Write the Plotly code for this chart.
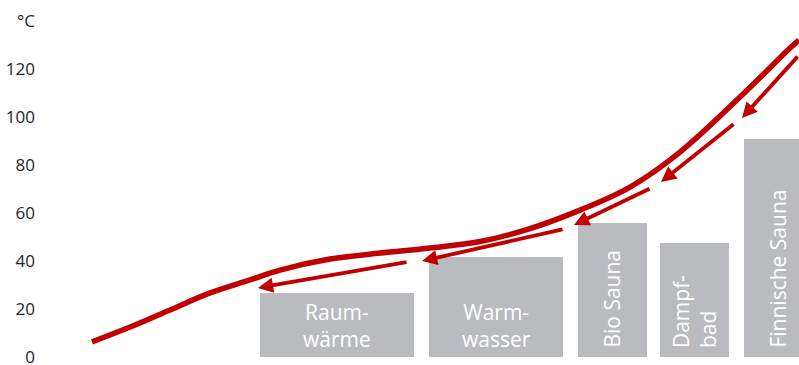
import plotly.graph_objects as go

# ---- data ----
# horizontal positions are on an arbitrary hidden scale
bar_names = ["Raum-<br>wärme", "Warm-<br>wasser", "Bio Sauna", "Dampf-<br>bad", "Finnische Sauna"]
bar_temps = [26.7, 41.7, 55.8, 47.5, 90.8]

curve_x = [92, 130, 170, 210, 250, 280, 330, 380, 430, 480, 530, 580, 630, 680, 740, 790, 799]
curve_t = [6.3, 12.5, 19.6, 26.7, 32.1, 36.2, 40.8, 43.3, 45.4, 48.1, 53.5, 61.2, 70.8, 85.4, 108.3, 128.7, 132.1]

# arrow segments: start (x, T) -> tip (x, T)
arrow_x0 = [799, 735, 651, 564, 408]
arrow_t0 = [125.8, 97.5, 70.4, 53.3, 39.6]
arrow_x1 = [742, 661, 574, 422, 258]
arrow_t1 = [99.6, 72.9, 55.0, 40.0, 28.8]

y_ticks = [0, 20, 40, 60, 80, 100, 120, 140]
y_ticktext = ["0", "20", "40", "60", "80", "100", "120", "°C"]

# ---- layout constants ----
bar_centers = [337, 496, 612.5, 694.5, 778.5]
bar_widths = [154, 134, 69, 69, 69]
label_angle = [0, 0, -90, -90, -90]

RED = "#c00000"
GREY = "#b9bbbe"
FONT = "Open Sans, Segoe UI, sans-serif"

fig = go.Figure()

fig.add_trace(go.Bar(
    x=bar_centers, y=bar_temps, width=bar_widths,
    marker=dict(color=GREY, line=dict(width=0)),
    hoverinfo="skip", showlegend=False,
))

fig.add_trace(go.Scatter(
    x=curve_x, y=curve_t, mode="lines",
    line=dict(color=RED, width=5.5, shape="spline", smoothing=1.0),
    hoverinfo="skip", showlegend=False,
))

annotations = []
for x0, t0, x1, t1 in zip(arrow_x0, arrow_t0, arrow_x1, arrow_t1):
    annotations.append(dict(
        x=x1, y=t1, ax=x0, ay=t0, xref="x", yref="y", axref="x", ayref="y",
        text="", showarrow=True, arrowhead=2, arrowsize=0.8, arrowwidth=3.8,
        arrowcolor=RED, standoff=0,
    ))

for name, cx, ang in zip(bar_names, bar_centers, label_angle):
    if ang == 0:
        annotations.append(dict(
            x=cx, y=13.3, xref="x", yref="y", text=name, showarrow=False,
            font=dict(family=FONT, size=21, color="white"),
            align="center", xanchor="center", yanchor="middle",
        ))
    else:
        annotations.append(dict(
            x=cx, y=2.9, xref="x", yref="y", text=name, showarrow=False,
            textangle=-90, font=dict(family=FONT, size=21, color="white"),
            align="left", xanchor="center", yanchor="bottom",
        ))

fig.update_layout(
    width=799, height=365,
    margin=dict(l=40, r=0, t=0, b=8, autoexpand=False),
    paper_bgcolor="white", plot_bgcolor="white",
    bargap=0,
    annotations=annotations,
    font=dict(family=FONT, size=17, color="#262626"),
    xaxis=dict(range=[40, 799], visible=False, fixedrange=True, automargin=False),
    yaxis=dict(range=[0, 148.75], tickvals=y_ticks, ticktext=y_ticktext,
               showgrid=False, zeroline=False, showline=False, ticks="",
               ticklabeloverflow="allow", ticklabelstandoff=4, automargin=False,
               tickfont=dict(family=FONT, size=17, color="#262626"),
               fixedrange=True),
)

fig.write_html("out.html")
